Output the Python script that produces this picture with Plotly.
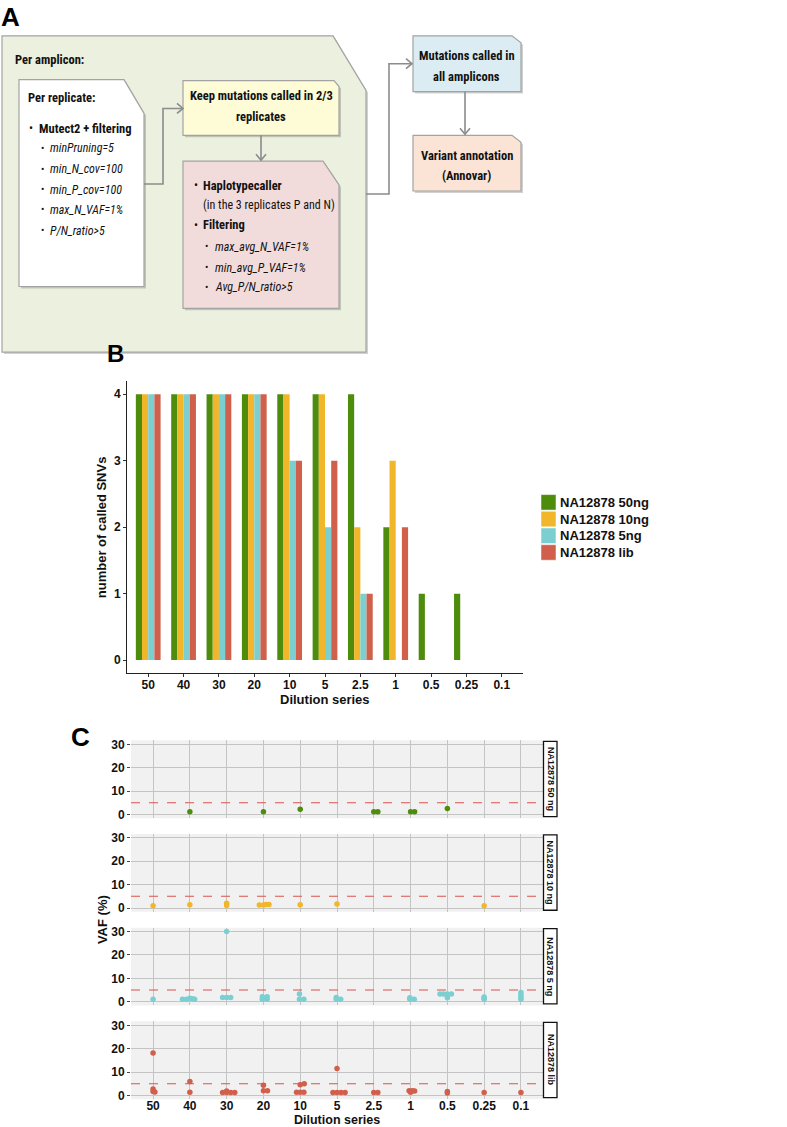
import plotly.graph_objects as go

W, H = 787, 1127

# ---------------- data ----------------
dilutions = ["50", "40", "30", "20", "10", "5", "2.5", "1", "0.5", "0.25", "0.1"]
series_names = ["NA12878 50ng", "NA12878 10ng", "NA12878 5ng", "NA12878 lib"]
series_colors = ["#4e8d0c", "#f1b62a", "#7bcfd1", "#d0604b"]
facet_labels = ["NA12878 50 ng", "NA12878 10 ng", "NA12878 5 ng", "NA12878 lib"]

snv_50ng = [4, 4, 4, 4, 4, 4, 4, 2, 1, 1, 0]
snv_10ng = [4, 4, 4, 4, 4, 4, 2, 3, 0, 0, 0]
snv_5ng = [4, 4, 4, 4, 3, 2, 1, 0, 0, 0, 0]
snv_lib = [4, 4, 4, 4, 3, 3, 1, 2, 0, 0, 0]

vaf_threshold = 5

# VAF points: dilution, horizontal jitter, VAF (%)
dil_50ng = ["40", "20", "10", "2.5", "2.5", "1", "1", "0.5"]
jit_50ng = [0, 0, 0, 0, 0.11, 0, 0.11, 0]
vaf_50ng = [1.1, 1.1, 2.2, 1.1, 1.1, 1.1, 1.1, 2.5]

dil_10ng = ["50", "40", "30", "30", "20", "20", "20", "20", "10", "5", "0.25"]
jit_10ng = [0, 0, 0, 0, -0.11, 0, 0.07, 0.15, 0, 0, 0]
vaf_10ng = [1.0, 1.4, 2.0, 1.1, 1.3, 1.3, 1.5, 1.5, 1.4, 1.7, 1.0]

dil_5ng = ["50",
           "40", "40", "40", "40", "40",
           "30", "30", "30", "30",
           "20", "20", "20", "20", "20",
           "10", "10", "10",
           "5", "5", "5",
           "1", "1", "1",
           "0.5", "0.5", "0.5", "0.5", "0.5",
           "0.25", "0.25", "0.25",
           "0.1", "0.1", "0.1", "0.1"]
jit_5ng = [0,
           -0.2, -0.09, 0, 0.07, 0.13,
           -0.11, 0, 0.11, 0,
           -0.03, 0.1, -0.03, 0.1, 0.03,
           -0.02, -0.02, 0.1,
           -0.02, 0.1, -0.02,
           -0.02, 0.1, -0.02,
           -0.2, -0.11, 0, 0.11, 0,
           0, 0, 0,
           0, 0, 0, 0]
vaf_5ng = [1.0,
           1.0, 1.0, 1.5, 1.3, 1.0,
           1.8, 1.8, 1.8, 30.0,
           2.1, 2.1, 1.0, 1.0, 1.5,
           3.3, 1.0, 1.0,
           1.8, 1.0, 1.0,
           1.7, 1.0, 1.0,
           3.3, 3.3, 3.3, 3.3, 1.7,
           1.0, 1.5, 2.0,
           1.0, 1.9, 2.9, 3.9]

dil_lib = ["50", "50", "50", "50",
           "40", "40",
           "30", "30", "30", "30", "30",
           "20", "20", "20",
           "10", "10", "10", "10", "10",
           "5", "5", "5", "5", "5",
           "2.5", "2.5",
           "1", "1", "1", "1",
           "0.5", "0.5",
           "0.25",
           "0.1"]
jit_lib = [0, 0, 0, 0.05,
           0, 0,
           -0.11, 0, 0, 0.11, 0.22,
           0, 0, 0.11,
           -0.1, 0, 0.1, 0, 0.11,
           0, -0.11, 0, 0.11, 0.22,
           0, 0.11,
           -0.04, 0.05, 0.11, 0,
           0, 0,
           0,
           0]
vaf_lib = [18.1, 2.7, 1.7, 1.5,
           6.0, 1.3,
           1.2, 1.2, 1.9, 1.2, 1.2,
           4.3, 2.0, 2.0,
           1.3, 1.3, 1.3, 4.6, 5.0,
           11.5, 1.2, 1.2, 1.2, 1.2,
           1.2, 1.2,
           2.0, 2.0, 1.9, 1.3,
           1.7, 1.0,
           1.2,
           1.2]

# ---------------- helpers ----------------
def px(x):
    return x / W


def py(y):
    return 1 - y / H


def path(points, close=True):
    s = "M " + " L ".join(f"{px(x):.5f},{py(y):.5f}" for x, y in points)
    return s + (" Z" if close else "")


NARROW = "Liberation Sans Narrow, Arial Narrow, Roboto Condensed, Liberation Sans, sans-serif"
SANS = "Liberation Sans, Arial, Helvetica, sans-serif"

fig = go.Figure()
shapes = []
annotations = []


def text(x, y, s, size=12.5, bold=False, italic=False, family=NARROW, anchor="left", angle=0, color="#111"):
    if italic:
        s = f"<i>{s}</i>"
    annotations.append(dict(
        x=px(x), y=py(y), xref="paper", yref="paper", text=s, showarrow=False,
        xanchor=anchor, yanchor="middle", textangle=angle,
        font=dict(family=family, size=size, color=color, weight="bold" if bold else "normal"),
    ))


# ---------------- panel A (flow diagram) ----------------
def box(points, fill, shadow=True):
    if shadow:
        sp = [(x + 2, y + 2) for x, y in points]
        shapes.append(dict(type="path", xref="paper", yref="paper", path=path(sp),
                           fillcolor="rgba(0,0,0,0.18)", line=dict(width=0), layer="below"))
    shapes.append(dict(type="path", xref="paper", yref="paper", path=path(points),
                       fillcolor=fill, line=dict(color="#a3a3a3", width=1.2), layer="below"))


box([(2, 33), (333, 33), (366, 88), (366, 351), (2, 351)], "#ebf0df")
box([(19, 77), (124, 77), (144, 111), (144, 285), (19, 285)], "#ffffff")
box([(183, 78), (334, 78), (339, 84), (339, 133), (183, 133)], "#fdfcd7")
box([(183, 159), (323, 159), (339, 183), (339, 307), (183, 307)], "#f2dcdb")
box([(413, 33), (512, 33), (521, 40), (521, 89), (413, 89)], "#dbedf3")
box([(413, 133), (512, 133), (521, 140), (521, 189), (413, 189)], "#fbe4d5")

AC = "#8c8c8c"


def connector(points):
    shapes.append(dict(type="path", xref="paper", yref="paper", path=path(points, close=False),
                       line=dict(color=AC, width=1.6)))


connector([(144, 182), (163, 182), (163, 106), (182, 106)])
connector([(177, 101), (183, 106), (177, 111)])
connector([(261, 133), (261, 158)])
connector([(256, 152), (261, 158), (266, 152)])
connector([(366, 192), (389, 192), (389, 61), (412, 61)])
connector([(406, 56), (412, 61), (406, 66)])
connector([(465, 89), (465, 132)])
connector([(460, 126), (465, 132), (470, 126)])

HB = 12.5   # bold header size
RG = 12     # regular / italic size

text(13, 57, "Per amplicon:", size=HB, bold=True)
text(26, 95, "Per replicate:", size=HB, bold=True)
text(27, 126, "•", size=12)
text(37, 126, "Mutect2 + filtering", size=HB, bold=True)
for yy, s in zip([146, 167, 188, 208, 229],
                 ["minPruning=5", "min_N_cov=100", "min_P_cov=100", "max_N_VAF=1%", "P/N_ratio>5"]):
    text(39, yy, "•", size=10)
    text(48, yy, s, size=RG, italic=True)

text(261, 93, "Keep mutations called in 2/3", size=HB, bold=True, anchor="center")
text(261, 114, "replicates", size=HB, bold=True, anchor="center")

text(192, 183, "•", size=12)
text(201, 183, "Haplotypecaller", size=HB, bold=True)
text(201, 203, "(in the 3 replicates P and N)", size=RG)
text(192, 223, "•", size=12)
text(201, 223, "Filtering", size=HB, bold=True)
for yy, s in zip([245, 266, 286], ["max_avg_N_VAF=1%", "min_avg_P_VAF=1%", "Avg_P/N_ratio>5"]):
    text(203, yy, "•", size=10)
    text(213, yy, s, size=RG, italic=True)

text(467, 53, "Mutations called in", size=HB, bold=True, anchor="center")
text(467, 74, "all amplicons", size=HB, bold=True, anchor="center")
text(467, 153, "Variant annotation", size=HB, bold=True, anchor="center")
text(467, 173, "(Annovar)", size=HB, bold=True, anchor="center")

# panel letters
text(10, 14, "A", size=26, bold=True, family=SANS, anchor="center", color="#000")
text(116, 352, "B", size=24, bold=True, family=SANS, anchor="center", color="#000")
text(80, 738, "C", size=26, bold=True, family=SANS, anchor="center", color="#000")

# ---------------- panel B (bar chart) ----------------
for name, col, vals in zip(series_names, series_colors, [snv_50ng, snv_10ng, snv_5ng, snv_lib]):
    fig.add_trace(go.Bar(x=dilutions, y=vals, name=name, marker=dict(color=col, line=dict(width=0)),
                         xaxis="x", yaxis="y", showlegend=False))

B_left, B_right, B_top, B_bottom = 127, 523, 380, 674
tickfont = dict(family=SANS, size=12, color="#111", weight="bold")
layout_axes = dict(
    xaxis=dict(domain=[px(B_left), px(B_right)], anchor="y", type="category",
               range=[-0.6, len(dilutions) - 0.4], showline=True, linecolor="#222", linewidth=1,
               ticks="outside", ticklen=3, tickcolor="#333", tickfont=tickfont, showgrid=False,
               ticklabelstandoff=-3, zeroline=False, fixedrange=True),
    yaxis=dict(domain=[py(B_bottom), py(B_top)], anchor="x", range=[-0.2, 4.2],
               tickvals=[0, 1, 2, 3, 4], showline=True, linecolor="#222", linewidth=1,
               ticks="outside", ticklen=3, tickcolor="#333", tickfont=tickfont, showgrid=False,
               zeroline=False, fixedrange=True),
)

text(101, (B_top + B_bottom) / 2, "number of called SNVs", size=13, bold=True, family=SANS,
     anchor="center", angle=-90)
text(325, 700, "Dilution series", size=13, bold=True, family=SANS, anchor="center")

# manual legend
for i, (name, col) in enumerate(zip(series_names, series_colors)):
    yc = 502 + i * 16.8
    shapes.append(dict(type="rect", xref="paper", yref="paper", x0=px(541), x1=px(556),
                       y0=py(yc + 7.8), y1=py(yc - 7.8), fillcolor=col, line=dict(color="#ffffff", width=0.5)))
    text(557.5, yc, name, size=13, bold=True, family=SANS)

# ---------------- panel C (faceted VAF) ----------------
C_left, C_right = 131, 543
facet_tops = [741.3, 835.4, 929.6, 1023.8]
facet_h = 78.2
facet_data = [(dil_50ng, jit_50ng, vaf_50ng), (dil_10ng, jit_10ng, vaf_10ng),
              (dil_5ng, jit_5ng, vaf_5ng), (dil_lib, jit_lib, vaf_lib)]
GRID = "#c4c4c4"

for k, ((dl, jt, vf), col, lab, top) in enumerate(zip(facet_data, series_colors, facet_labels, facet_tops)):
    n = k + 2
    xa, ya = f"x{n}", f"y{n}"
    xs = [dilutions.index(d) + j for d, j in zip(dl, jt)]
    fig.add_trace(go.Scatter(x=xs, y=vf, mode="markers", xaxis=xa, yaxis=ya, showlegend=False,
                             marker=dict(color=col, size=5.5, line=dict(width=0))))
    last = k == 3
    layout_axes[f"xaxis{n}"] = dict(
        domain=[px(C_left), px(C_right)], anchor=ya, range=[-0.6, len(dilutions) - 0.4],
        tickvals=list(range(len(dilutions))), ticktext=dilutions, showticklabels=last,
        ticks="", tickfont=tickfont, ticklabelstandoff=-2,
        showgrid=True, gridcolor=GRID, gridwidth=1, zeroline=False, showline=False, fixedrange=True)
    layout_axes[f"yaxis{n}"] = dict(
        domain=[py(top + facet_h), py(top)], anchor=xa, range=[-1.6, 31.7],
        tickvals=[0, 10, 20, 30], ticks="outside", ticklen=3, tickcolor="#444", tickfont=tickfont,
        showgrid=True, gridcolor=GRID, gridwidth=1, zeroline=False, showline=False, fixedrange=True)
    shapes.append(dict(type="rect", xref=f"{xa} domain", yref=f"{ya} domain", x0=0, x1=1, y0=0, y1=1,
                       fillcolor="#f1f1f1", line=dict(width=0), layer="below"))
    shapes.append(dict(type="line", xref=f"{xa} domain", yref=ya, x0=0, x1=1, y0=vaf_threshold,
                       y1=vaf_threshold, line=dict(color="#d9534f", width=1.1, dash="dash")))
    # facet strip
    shapes.append(dict(type="rect", xref="paper", yref="paper", x0=px(543.5), x1=px(557),
                       y0=py(top + facet_h - 1.5), y1=py(top + 1), fillcolor="#ffffff",
                       line=dict(color="#111", width=1.3)))
    text(550.3, top + facet_h / 2, lab, size=9, bold=True, family=SANS, anchor="center", angle=90)

text(102, 922, "VAF (%)", size=13, bold=True, family=SANS, anchor="center", angle=-90)
text(337, 1123, "Dilution series", size=12.5, bold=True, family=SANS, anchor="center")

fig.update_layout(
    width=W, height=H, margin=dict(l=0, r=0, t=0, b=0),
    paper_bgcolor="#ffffff", plot_bgcolor="#ffffff",
    barmode="group", bargap=0.3, bargroupgap=0,
    showlegend=False, shapes=shapes, annotations=annotations,
    font=dict(family=SANS, color="#111"),
    **layout_axes,
)

fig.write_html("out.html", config={"displayModeBar": False},
               post_script="document.body.style.margin='0';document.body.style.overflow='hidden';")
